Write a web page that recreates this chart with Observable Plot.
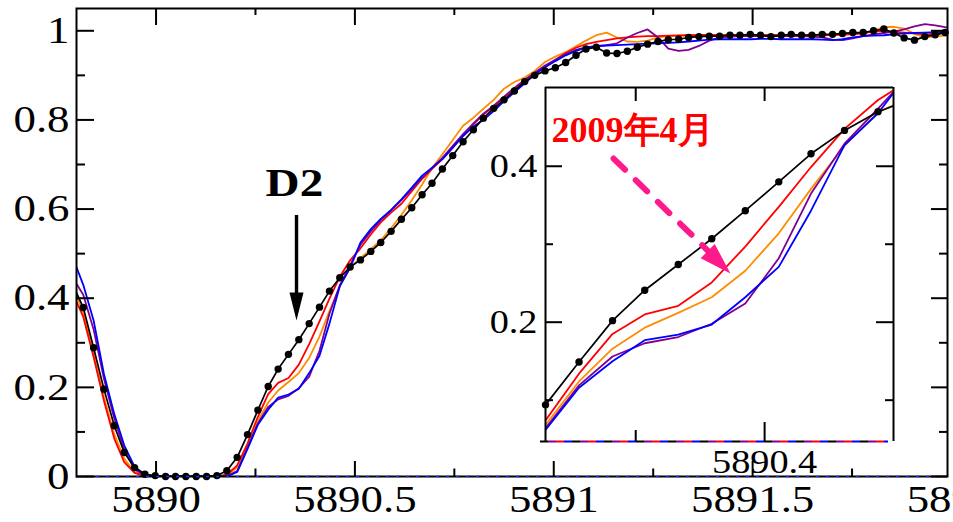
<!DOCTYPE html>
<html><head><meta charset="utf-8">
<script src="https://cdn.jsdelivr.net/npm/d3@7"></script>
<script src="https://cdn.jsdelivr.net/npm/@observablehq/plot@0.6"></script>
<style>
body{margin:0;background:#fff;}
#wrap{position:relative;width:953px;height:522px;overflow:hidden;background:#fff;}
#inset{position:absolute;left:480px;top:80px;}
svg text{font-family:'Liberation Serif','Times New Roman',Times,serif;}
</style></head>
<body><div id="wrap"><div id="main"></div><div id="inset"></div></div>
<script>
// ---- data (wavelength in Å, normalized flux) ----
const wavelength = [
5889.791,5889.817,5889.843,5889.869,5889.895,5889.920,5889.946,5889.972,5889.998,5890.024,
5890.049,5890.075,5890.101,5890.127,5890.153,5890.178,5890.204,5890.230,5890.256,5890.282,
5890.307,5890.333,5890.359,5890.385,5890.411,5890.436,5890.462,5890.488,5890.514,5890.540,
5890.565,5890.591,5890.617,5890.643,5890.669,5890.694,5890.720,5890.746,5890.772,5890.798,
5890.823,5890.849,5890.875,5890.901,5890.927,5890.952,5890.978,5891.004,5891.030,5891.056,
5891.081,5891.107,5891.133,5891.159,5891.185,5891.210,5891.236,5891.262,5891.288,5891.314,
5891.339,5891.365,5891.391,5891.417,5891.443,5891.468,5891.494,5891.520,5891.546,5891.572,
5891.597,5891.623,5891.649,5891.675,5891.701,5891.726,5891.752,5891.778,5891.804,5891.830,
5891.855,5891.881,5891.907,5891.933,5891.959,5891.984,5892.010];
const black = [
0.430,0.379,0.289,0.196,0.114,0.054,0.020,0.005,0.002,0.000,
0.000,0.000,0.000,0.000,0.002,0.013,0.043,0.094,0.149,0.202,
0.241,0.274,0.307,0.343,0.380,0.416,0.446,0.470,0.486,0.505,
0.525,0.550,0.577,0.603,0.632,0.658,0.690,0.720,0.751,0.778,
0.804,0.826,0.845,0.865,0.886,0.900,0.910,0.917,0.929,0.945,
0.959,0.963,0.950,0.949,0.954,0.963,0.970,0.976,0.980,0.981,
0.985,0.987,0.988,0.988,0.990,0.990,0.992,0.990,0.987,0.990,
0.992,0.990,0.990,0.992,0.992,0.994,0.996,0.996,1.000,1.004,
0.995,0.984,0.979,0.987,0.991,0.996,0.998];
const red = [
0.410,0.358,0.268,0.170,0.085,0.032,0.008,0.001,0.000,0.000,
0.000,0.000,0.000,0.000,0.000,0.004,0.025,0.074,0.134,0.185,
0.210,0.221,0.251,0.297,0.348,0.399,0.448,0.485,0.512,0.543,
0.570,0.592,0.612,0.640,0.668,0.690,0.712,0.738,0.765,0.790,
0.812,0.830,0.850,0.870,0.888,0.905,0.918,0.935,0.950,0.962,
0.970,0.975,0.979,0.983,0.985,0.987,0.988,0.988,0.989,0.989,
0.990,0.990,0.991,0.990,0.990,0.991,0.990,0.990,0.991,0.990,
0.990,0.991,0.990,0.990,0.991,0.992,0.992,0.995,0.998,1.000,
0.998,0.996,0.994,0.992,0.993,0.996,0.997];
const orange = [
0.425,0.368,0.276,0.178,0.095,0.040,0.010,0.001,0.000,0.000,
0.000,0.000,0.000,0.000,0.000,0.003,0.020,0.068,0.124,0.166,
0.193,0.212,0.232,0.266,0.314,0.371,0.426,0.469,0.490,0.510,
0.530,0.557,0.587,0.620,0.655,0.692,0.723,0.755,0.787,0.805,
0.825,0.845,0.870,0.885,0.895,0.910,0.930,0.942,0.952,0.965,
0.978,0.990,0.996,0.985,0.976,0.975,0.978,0.985,0.988,0.990,
0.990,0.991,0.990,0.990,0.991,0.990,0.990,0.990,0.991,0.990,
0.990,0.990,0.990,0.991,0.990,0.991,0.993,0.995,1.000,1.008,
1.009,1.005,0.993,0.985,0.987,0.989,0.990];
const purple = [
0.445,0.408,0.330,0.220,0.130,0.060,0.016,0.002,0.000,0.000,
0.000,0.000,0.000,0.000,0.000,0.001,0.012,0.064,0.119,0.156,
0.173,0.181,0.198,0.224,0.282,0.365,0.429,0.474,0.520,0.550,
0.575,0.597,0.620,0.645,0.670,0.692,0.715,0.742,0.768,0.792,
0.814,0.832,0.852,0.872,0.890,0.906,0.922,0.935,0.947,0.957,
0.963,0.966,0.968,0.972,0.985,0.995,1.003,0.985,0.960,0.955,
0.957,0.966,0.978,0.985,0.987,0.988,0.988,0.988,0.988,0.988,
0.988,0.988,0.987,0.985,0.980,0.979,0.983,0.988,0.992,0.995,
0.998,1.003,1.010,1.015,1.012,1.008,1.006];
const blue = [
0.490,0.430,0.350,0.230,0.140,0.070,0.022,0.004,0.000,0.000,
0.000,0.000,0.000,0.000,0.000,0.000,0.010,0.062,0.116,0.150,
0.177,0.184,0.197,0.232,0.271,0.343,0.427,0.468,0.525,0.555,
0.578,0.598,0.622,0.648,0.675,0.693,0.712,0.738,0.764,0.785,
0.800,0.820,0.842,0.862,0.882,0.902,0.918,0.932,0.945,0.955,
0.962,0.965,0.967,0.968,0.969,0.970,0.971,0.972,0.973,0.974,
0.976,0.978,0.980,0.981,0.981,0.981,0.981,0.982,0.982,0.981,
0.981,0.981,0.981,0.980,0.979,0.981,0.985,0.988,0.989,0.990,
0.992,0.994,0.995,0.996,0.997,0.997,0.997];

const seriesNames = ["orange", "red", "purple", "blue"];
const seriesColors = {orange: "#ff8c00", red: "#ff0000", purple: "#800090", blue: "#0000ff"};

// axis ticks and labels
const xTickLabels = [5890, 5890.5, 5891, 5891.5, 5892];
const xMajorTicks = [5890, 5890.5, 5891, 5891.5];
const xMinorTicks = [5890.25, 5890.75, 5891.25, 5891.75];
const yMajorTicks = [0, 0.2, 0.4, 0.6, 0.8, 1];
const yMinorTicks = [0.1, 0.3, 0.5, 0.7, 0.9];
const insetXMajor = [5890.4];
const insetXMinor = [5890.3];
const insetYMajor = [0.2, 0.4];
const insetYMinor = [0.1, 0.3];
const xDomain = [5889.8, 5891.99];
const yDomain = [0, 1.05];
const insetXDomain = [5890.23, 5890.5];
const insetYDomain = [0.047, 0.501];

// annotations
const d2Label = {x: 5890.348, y: 0.6585, text: "D2"};
const d2Arrow = {x: 5890.3532, y1: 0.5856, y2: 0.405};
const d2Head = [{x: 5890.3356, y: 0.4128}, {x: 5890.3532, y: 0.350}, {x: 5890.3708, y: 0.4128}];
const dateLabel = {x: 5890.2975, y: 0.4465, text: "2009年4月"};
const pinkShaft = {x1: 5890.2828, y1: 0.4099, x2: 5890.3570, y2: 0.2900};
const pinkHead = [{x: 5890.3504, y: 0.2821}, {x: 5890.3735, y: 0.2624}, {x: 5890.3613, y: 0.3003}];

const rows = wavelength.map((w, i) => ({w, black: black[i], red: red[i], orange: orange[i], purple: purple[i], blue: blue[i]}));

const SERIF = "'Liberation Serif', 'Times New Roman', Times, serif";

function stretch(svg, sx) {
  svg.querySelectorAll("text").forEach(t => {
    if (t.textContent.includes("年")) return;
    const x = +(t.getAttribute("x") || 0);
    const tr = t.getAttribute("transform") || "";
    t.setAttribute("transform", `${tr} translate(${x},0) scale(${sx},1) translate(${-x},0)`);
  });
}

// ---- main chart ----
const W = 953, H = 522, mL = 76, mR = 6, mT = 8, mB = 46;
const fW = W - mL - mR, fH = H - mT - mB;
const inMain = r => r.w >= xDomain[0] && r.w <= xDomain[1];

const mainMarks = [];
for (const s of seriesNames) {
  mainMarks.push(Plot.line(rows, {x: "w", y: s, stroke: seriesColors[s], strokeWidth: 1.8, clip: true}));
}
mainMarks.push(Plot.line(rows, {x: "w", y: "black", stroke: "black", strokeWidth: 1.7, clip: true}));
mainMarks.push(Plot.dot(rows.filter(inMain), {x: "w", y: "black", r: 3.7, fill: "black", stroke: "none"}));
mainMarks.push(Plot.frame({stroke: "black", strokeWidth: 2}));
mainMarks.push(Plot.ruleY([0], {stroke: "#1030ff", strokeWidth: 1.6, strokeDasharray: "3 7"}));
// inward ticks
mainMarks.push(Plot.ruleX(xMajorTicks, {insetTop: fH - 15, strokeWidth: 2}));
mainMarks.push(Plot.ruleX(xMinorTicks, {insetTop: fH - 7.5, strokeWidth: 2}));
mainMarks.push(Plot.ruleX(xMajorTicks, {insetBottom: fH - 17, strokeWidth: 2}));
mainMarks.push(Plot.ruleX(xMinorTicks, {insetBottom: fH - 7, strokeWidth: 2}));
mainMarks.push(Plot.ruleY(yMajorTicks, {insetRight: fW - 18, strokeWidth: 2}));
mainMarks.push(Plot.ruleY(yMinorTicks, {insetRight: fW - 9, strokeWidth: 2}));
mainMarks.push(Plot.ruleY(yMajorTicks, {insetLeft: fW - 16, strokeWidth: 2}));
mainMarks.push(Plot.ruleY(yMinorTicks, {insetLeft: fW - 8, strokeWidth: 2}));
// D2 annotation
mainMarks.push(Plot.text([d2Label], {x: "x", y: "y", text: "text", fontSize: 40, fontWeight: "bold", fill: "black", fontFamily: SERIF}));
mainMarks.push(Plot.ruleX([d2Arrow], {x: "x", y1: "y1", y2: "y2", strokeWidth: 3.4, stroke: "black"}));
mainMarks.push(Plot.line(d2Head, {x: "x", y: "y", fill: "black", stroke: "none"}));

const mainPlot = Plot.plot({
  width: W, height: H,
  marginLeft: mL, marginRight: mR, marginTop: mT, marginBottom: mB,
  style: {background: "white", fontFamily: SERIF, fontSize: "38px", color: "black", overflow: "visible"},
  x: {domain: xDomain, ticks: xTickLabels, tickSize: 0, tickPadding: 9, tickFormat: d => String(d), label: null},
  y: {domain: yDomain, ticks: yMajorTicks, tickSize: 0, tickPadding: 7, tickFormat: d => String(d), label: null},
  marks: mainMarks
});
stretch(mainPlot, 1.18);
document.getElementById("main").appendChild(mainPlot);

// ---- inset ----
const iW = 420, iH = 405, iL = 65, iR = 7, iT = 7, iB = 44;
const ifW = iW - iL - iR, ifH = iH - iT - iB;
const inInset = r => r.w >= insetXDomain[0] - 1e-6 && r.w <= insetXDomain[1];
const insetRows = rows.filter(r => r.w >= 5890.2 && r.w <= 5890.55);

const insetMarks = [];
insetMarks.push(Plot.frame({fill: "white", stroke: "none"}));
for (const s of seriesNames) {
  insetMarks.push(Plot.line(insetRows, {x: "w", y: s, stroke: seriesColors[s], strokeWidth: 1.8, clip: true}));
}
insetMarks.push(Plot.line(insetRows, {x: "w", y: "black", stroke: "black", strokeWidth: 1.7, clip: true}));
insetMarks.push(Plot.dot(insetRows.filter(inInset), {x: "w", y: "black", r: 3.7, fill: "black", stroke: "none"}));
// frame: left, right, top solid; bottom multi-colour dashed
insetMarks.push(Plot.ruleX([insetXDomain[0], insetXDomain[1]], {strokeWidth: 2}));
insetMarks.push(Plot.ruleY([insetYDomain[1]], {strokeWidth: 2}));
const dashCols = ["black", "#800090", "#ff0000", "#0000ff"];
dashCols.forEach((c, i) => insetMarks.push(Plot.ruleY([insetYDomain[0]], {stroke: c, strokeWidth: 2.2, strokeDasharray: "8 24", strokeDashoffset: -8 * i, dx: -5})));
// inward ticks
insetMarks.push(Plot.ruleX(insetXMajor, {insetTop: ifH - 19, strokeWidth: 2}));
insetMarks.push(Plot.ruleX(insetXMinor, {insetTop: ifH - 11, strokeWidth: 2}));
insetMarks.push(Plot.ruleX(insetXMajor.concat(insetXMinor), {insetBottom: ifH - 14, strokeWidth: 2}));
insetMarks.push(Plot.ruleY(insetYMajor, {insetRight: ifW - 17, strokeWidth: 2}));
insetMarks.push(Plot.ruleY(insetYMinor, {insetRight: ifW - 8, strokeWidth: 2}));
insetMarks.push(Plot.ruleY(insetYMajor, {insetLeft: ifW - 17, strokeWidth: 2}));
insetMarks.push(Plot.ruleY(insetYMinor, {insetLeft: ifW - 8, strokeWidth: 2}));
// annotations
insetMarks.push(Plot.text([dateLabel], {x: "x", y: "y", text: "text", fontSize: 36, fontWeight: "bold", fill: "#ff0000", fontFamily: "'Liberation Serif', 'Noto Sans CJK SC', serif"}));
insetMarks.push(Plot.link([pinkShaft], {x1: "x1", y1: "y1", x2: "x2", y2: "y2", stroke: "#ff1a8c", strokeWidth: 6, strokeDasharray: "16 15", strokeLinecap: "round"}));
insetMarks.push(Plot.line(pinkHead, {x: "x", y: "y", fill: "#ff1a8c", stroke: "none"}));

const insetPlot = Plot.plot({
  width: iW, height: iH,
  marginLeft: iL, marginRight: iR, marginTop: iT, marginBottom: iB,
  style: {background: "transparent", fontFamily: SERIF, fontSize: "33px", color: "black", overflow: "visible"},
  x: {domain: insetXDomain, ticks: insetXMajor, tickSize: 0, tickPadding: 8, tickFormat: d => String(d), label: null},
  y: {domain: insetYDomain, ticks: insetYMajor, tickSize: 0, tickPadding: 8, tickFormat: d => String(d), label: null},
  marks: insetMarks
});
stretch(insetPlot, 1.16);
document.getElementById("inset").appendChild(insetPlot);
</script>
</body></html>
